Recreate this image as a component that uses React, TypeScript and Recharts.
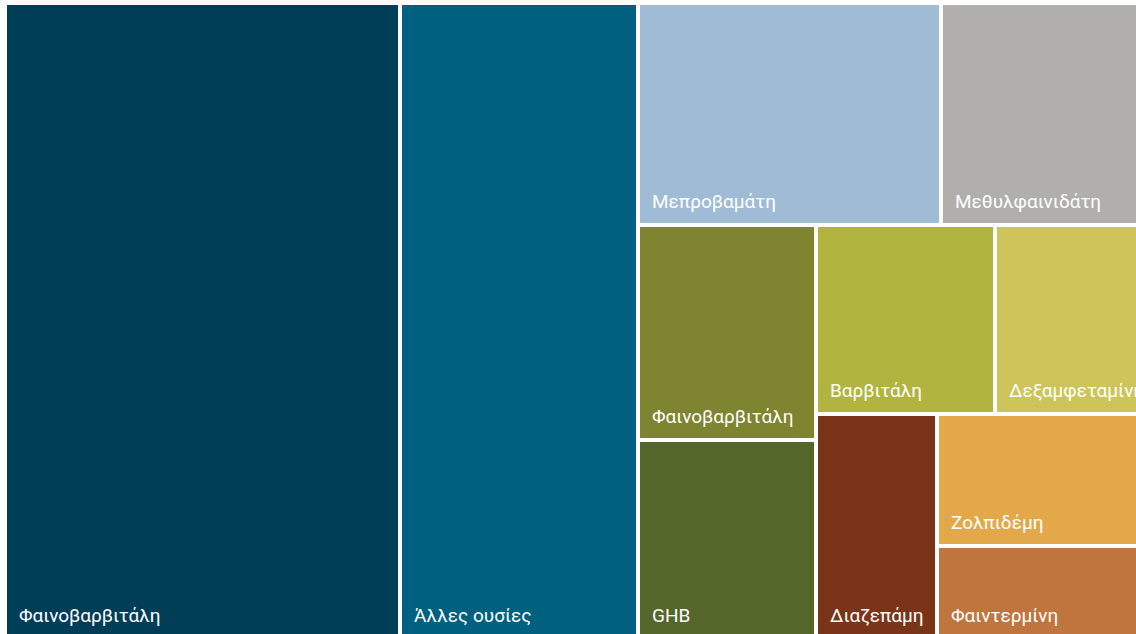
import { Treemap } from 'recharts';

// substances, in the order the tiles are laid out
const names = [
  'Φαινοβαρβιτάλη',
  'Άλλες ουσίες',
  'Μεπροβαμάτη',
  'Μεθυλφαινιδάτη',
  'Φαινοβαρβιτάλη',
  'GHB',
  'Βαρβιτάλη',
  'Δεξαμφεταμίνη',
  'Διαζεπάμη',
  'Ζολπιδέμη',
  'Φαιντερμίνη',
];

const values = [250.9, 151.4, 67.3, 46.3, 38.3, 35.2, 33.9, 29.2, 27.3, 28.1, 20.3];

const colors = [
  '#003d57',
  '#00607f',
  '#9fbbd6',
  '#b0afac',
  '#7f8430',
  '#55662b',
  '#b1b540',
  '#cec55a',
  '#7a3418',
  '#e3a84a',
  '#c0743e',
];

const data = names.map((name, i) => ({ name, value: values[i] }));

const Tile = (props: any) => {
  const { x, y, width, height, depth, index, name } = props;
  if (depth !== 1) return null;
  return (
    <g>
      <rect
        x={x}
        y={y}
        width={width}
        height={height}
        fill={colors[index]}
        stroke="#fff"
        strokeWidth={4}
      />
      <text
        x={x + 14}
        y={y + height - 17}
        fill="#fff"
        fontSize={19}
        fontFamily="Roboto, sans-serif"
      >
        {name}
      </text>
    </g>
  );
};

export default function App() {
  return (
    <div
      style={{
        position: 'absolute',
        left: 0,
        top: 0,
        width: 1136,
        height: 634,
        overflow: 'hidden',
        background: '#fff',
      }}
    >
      <div style={{ position: 'absolute', left: 5, top: 3 }}>
        <Treemap
          width={1145}
          height={636}
          data={data}
          dataKey="value"
          nameKey="name"
          aspectRatio={0.7}
          isAnimationActive={false}
          content={<Tile />}
        />
      </div>
    </div>
  );
}
